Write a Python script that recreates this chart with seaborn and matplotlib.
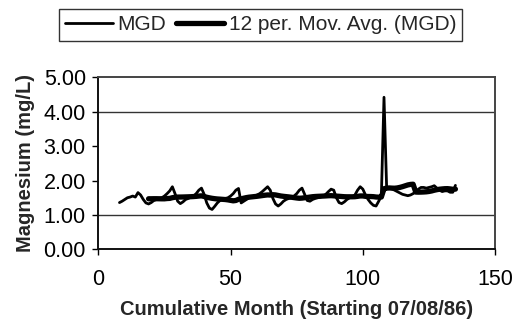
import numpy as np
import pandas as pd
import matplotlib
matplotlib.use("Agg")
import matplotlib.pyplot as plt
import seaborn as sns

# --- DATA ---
MONTHS = list(range(8, 136))
MGD = [
    1.36, 1.40, 1.45, 1.50, 1.52, 1.55, 1.52, 1.65, 1.58, 1.45,   # 8-17
    1.35, 1.32, 1.36, 1.42, 1.45, 1.48, 1.50, 1.55, 1.62, 1.70,   # 18-27
    1.82, 1.62, 1.40, 1.33, 1.38, 1.45, 1.48, 1.52, 1.55, 1.62,   # 28-37
    1.72, 1.78, 1.60, 1.35, 1.20, 1.16, 1.25, 1.35, 1.42, 1.45,   # 38-47
    1.48, 1.50, 1.55, 1.62, 1.72, 1.77, 1.35, 1.40, 1.45, 1.50,   # 48-57
    1.52, 1.55, 1.58, 1.62, 1.68, 1.75, 1.82, 1.72, 1.48, 1.32,   # 58-67
    1.26, 1.32, 1.40, 1.45, 1.48, 1.50, 1.55, 1.62, 1.72, 1.78,   # 68-77
    1.60, 1.42, 1.40, 1.45, 1.48, 1.50, 1.52, 1.55, 1.60, 1.68,   # 78-87
    1.75, 1.72, 1.50, 1.36, 1.33, 1.38, 1.45, 1.50, 1.52, 1.58,   # 88-97
    1.72, 1.82, 1.75, 1.58, 1.45, 1.35, 1.28, 1.26, 1.40, 1.55,   # 98-107
    4.42, 1.78, 1.78, 1.76, 1.72, 1.68, 1.64, 1.60, 1.58, 1.56,   # 108-117
    1.58, 1.62, 1.68, 1.75, 1.80, 1.80, 1.78, 1.80, 1.82, 1.85,   # 118-127
    1.78, 1.72, 1.68, 1.70, 1.70, 1.66, 1.66, 1.86,               # 128-135
]
MA_PERIOD = 12
Y_TICKS = [0, 1, 2, 3, 4, 5]
X_TICKS = [0, 50, 100, 150]
GRID_Y = [1, 4]

df = pd.DataFrame({"month": MONTHS, "mgd": MGD})
df["ma"] = df["mgd"].rolling(MA_PERIOD).mean()

sns.set_theme(style="white")
plt.rcParams["font.family"] = ["Liberation Sans", "DejaVu Sans"]

fig = plt.figure(figsize=(5.12, 3.29), dpi=100)
ax = fig.add_axes([0.192, 0.242, 0.775, 0.523])

for gy in GRID_Y:
    ax.axhline(gy, color="#333333", lw=1.0, zorder=1)

sns.lineplot(data=df, x="month", y="mgd", ax=ax, color="black", lw=2.0,
             label="MGD", legend=False, zorder=3)
sns.lineplot(data=df.dropna(), x="month", y="ma", ax=ax, color="black", lw=3.8,
             label="12 per. Mov. Avg. (MGD)", legend=False, zorder=4)

ax.set_xlim(0, 150)
ax.set_ylim(0, 5)
ax.set_xticks(X_TICKS)
ax.set_yticks(Y_TICKS)
ax.set_yticklabels([f"{v:.2f}" for v in Y_TICKS])
ax.tick_params(axis="both", direction="out", length=4, width=1, colors="black",
               labelsize=15.5, left=True, bottom=True, pad=5)
ax.tick_params(axis="x", pad=10)

for side, sp in ax.spines.items():
    sp.set_visible(True)
    sp.set_linestyle((0, (1, 1)))
    sp.set_linewidth(1.4)
    sp.set_color("#444444" if side in ("top", "right") else "#111111")

ax.set_xlabel("Cumulative Month (Starting 07/08/86)", fontsize=14.5,
              fontweight="bold", labelpad=7)
ax.set_ylabel("Magnesium (mg/L)", fontsize=14.5, fontweight="bold", labelpad=6)

handles, labels = ax.get_legend_handles_labels()
leg = fig.legend(handles, labels, loc="upper center", bbox_to_anchor=(0.509, 1.004),
                 ncol=2, frameon=True, fancybox=False, edgecolor="black",
                 fontsize=15, handlelength=2.3, handletextpad=0.2,
                 columnspacing=0.5, borderpad=0.3)
leg.get_frame().set_linewidth(1.0)

fig.savefig("out.png", dpi=100)
